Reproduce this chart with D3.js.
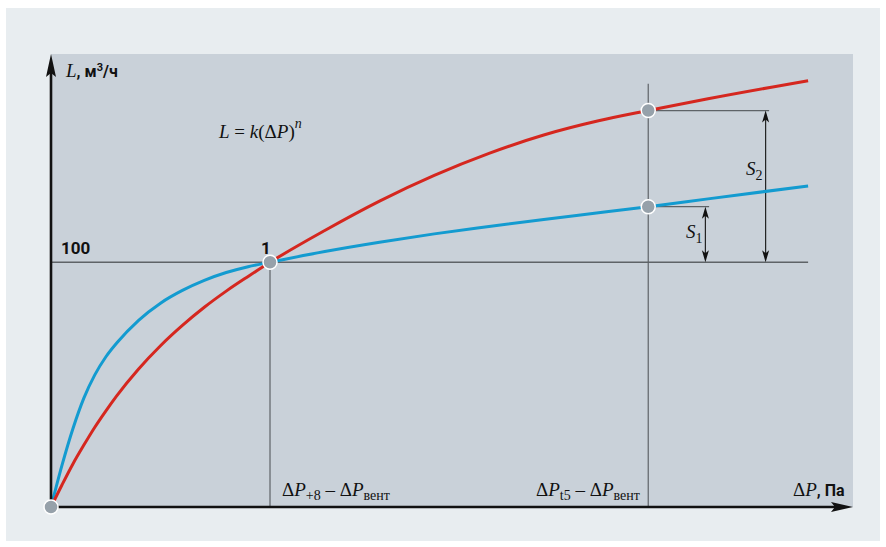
<!DOCTYPE html>
<html>
<head>
<meta charset="utf-8">
<script src="https://cdn.jsdelivr.net/npm/d3@7"></script>
<style>
  body { margin: 0; background: #fff; }
  svg { display: block; }
  .serif { font-family: "Liberation Serif", "DejaVu Serif", serif; font-style: italic; }
  .upr { font-family: "Liberation Serif", "DejaVu Serif", serif; }
  .bold { font-family: "Liberation Sans Narrow", "Roboto", sans-serif; font-weight: bold; }
</style>
</head>
<body>
<svg width="886" height="547"></svg>
<script>
// Pressure drop (normalised, point 1 = 1) and flow L for both curves
var dP    = [0, 0.05, 0.1, 0.15, 0.2, 0.25, 0.3, 0.4, 0.5, 0.6, 0.7, 0.8, 0.9, 1, 1.25, 1.5, 1.75, 2, 2.25, 2.5, 2.727, 3, 3.457];
var redL  = [0, 9.0, 17.6, 25.3, 32.6, 39.2, 45.4, 56.4, 65.9, 74.2, 81.6, 88.2, 94.2, 100, 113, 125, 135.5, 144.5, 152, 157.8, 162, 166.8, 174.2];
var blueL = [0, 17, 32, 44.5, 54, 61.3, 67, 76.3, 83.3, 88.5, 92.6, 95.8, 98.2, 100, 104.4, 108.2, 111.6, 114.6, 117.5, 120.2, 122.7, 125.9, 131.2];

// reference values
var dP1 = 1, dPt5 = 2.727, refL = 100;
var redT5 = 162.0, blueT5 = 122.7;

var svg = d3.select("svg");

// Backgrounds
svg.append("rect").attr("x", 6).attr("y", 8).attr("width", 874).attr("height", 533).attr("fill", "#e8edf0");
svg.append("rect").attr("x", 51).attr("y", 54).attr("width", 802).attr("height", 453).attr("fill", "#c9d1d9");

var x = d3.scaleLinear().domain([0, 3.662]).range([51, 853]);
var y = d3.scaleLinear().domain([0, 185.1]).range([507, 54]);

var gray = "#5e6367";

// Reference lines
svg.append("line").attr("x1", x(0)).attr("x2", x(d3.max(dP)))
  .attr("y1", y(refL)).attr("y2", y(refL)).attr("stroke", gray).attr("stroke-width", 1.4);
svg.append("line").attr("x1", x(dP1)).attr("x2", x(dP1))
  .attr("y1", y(refL)).attr("y2", y(0)).attr("stroke", gray).attr("stroke-width", 1.2);
svg.append("line").attr("x1", x(dPt5)).attr("x2", x(dPt5))
  .attr("y1", y(172.9)).attr("y2", y(0)).attr("stroke", gray).attr("stroke-width", 1.2);

// S1 / S2 brackets
var s1x = 2.988, s2x = 3.263;
svg.append("line").attr("x1", x(dPt5)).attr("x2", x(3.005))
  .attr("y1", y(blueT5)).attr("y2", y(blueT5)).attr("stroke", gray).attr("stroke-width", 1.2);
svg.append("line").attr("x1", x(dPt5)).attr("x2", x(3.279))
  .attr("y1", y(redT5)).attr("y2", y(redT5)).attr("stroke", gray).attr("stroke-width", 1.2);

function dimArrow(xv, top, bottom) {
  var px = x(xv), y1 = y(top), y2 = y(bottom);
  svg.append("line").attr("x1", px).attr("x2", px).attr("y1", y1 + 4).attr("y2", y2 - 4)
    .attr("stroke", "#222").attr("stroke-width", 1.2);
  svg.append("path").attr("d", "M" + px + "," + y1 + "l-3.5,12l3.5,-3l3.5,3z").attr("fill", "#111");
  svg.append("path").attr("d", "M" + px + "," + y2 + "l-3.5,-12l3.5,3l3.5,-3z").attr("fill", "#111");
}
dimArrow(s1x, blueT5, refL);
dimArrow(s2x, redT5, refL);

// Curves
var line = d3.line()
  .x(function(d) { return x(d[0]); })
  .y(function(d) { return y(d[1]); })
  .curve(d3.curveMonotoneX);

svg.append("path").datum(d3.zip(dP, blueL)).attr("d", line)
  .attr("fill", "none").attr("stroke", "#139bd0").attr("stroke-width", 3);
svg.append("path").datum(d3.zip(dP, redL)).attr("d", line)
  .attr("fill", "none").attr("stroke", "#d5271f").attr("stroke-width", 3);

// Axes
svg.append("line").attr("x1", x(0)).attr("x2", 840).attr("y1", y(0)).attr("y2", y(0))
  .attr("stroke", "#111").attr("stroke-width", 2.6);
svg.append("path").attr("d", "M853," + y(0) + "L831," + (y(0) - 5) + "L835," + y(0) + "L831," + (y(0) + 5) + "Z")
  .attr("fill", "#111");
svg.append("line").attr("x1", x(0)).attr("x2", x(0)).attr("y1", y(0)).attr("y2", 66)
  .attr("stroke", "#111").attr("stroke-width", 2.6);
svg.append("path").attr("d", "M" + x(0) + ",54L" + (x(0) - 5) + ",77L" + x(0) + ",73L" + (x(0) + 5) + ",77Z")
  .attr("fill", "#111");

// Marker points
var pts = [[0, 0], [dP1, refL], [dPt5, redT5], [dPt5, blueT5]];
svg.selectAll("circle.pt").data(pts).enter().append("circle")
  .attr("cx", function(d) { return x(d[0]); })
  .attr("cy", function(d) { return y(d[1]); })
  .attr("r", 7).attr("fill", "#96a1aa").attr("stroke", "#fff").attr("stroke-width", 1.5);

// Texts
var t = svg.append("text").attr("x", 66).attr("y", 77).attr("fill", "#111");
t.append("tspan").attr("class", "serif").attr("font-size", 19).text("L");
t.append("tspan").attr("class", "bold").attr("font-size", 16).text(", м");
t.append("tspan").attr("class", "bold").attr("font-size", 11).attr("dy", -6).text("3");
t.append("tspan").attr("class", "bold").attr("font-size", 16).attr("dy", 6).text("/ч");

var f = svg.append("text").attr("x", 219).attr("y", 138).attr("fill", "#111").attr("font-size", 19);
f.append("tspan").attr("class", "serif").text("L");
f.append("tspan").attr("class", "upr").text(" = ");
f.append("tspan").attr("class", "serif").text("k");
f.append("tspan").attr("class", "upr").text("(Δ");
f.append("tspan").attr("class", "serif").text("P");
f.append("tspan").attr("class", "upr").text(")");
f.append("tspan").attr("class", "serif").attr("font-size", 14).attr("dy", -10).text("n");

svg.append("text").attr("class", "bold").attr("x", 61).attr("y", 254).attr("font-size", 17)
  .attr("fill", "#111").text("100");
svg.append("text").attr("class", "bold").attr("x", 261).attr("y", 254).attr("font-size", 17)
  .attr("fill", "#111").text("1");

function dpLabel(px, sub) {
  var l = svg.append("text").attr("x", px).attr("y", 496).attr("fill", "#111").attr("font-size", 19);
  l.append("tspan").attr("class", "upr").text("Δ");
  l.append("tspan").attr("class", "serif").text("P");
  l.append("tspan").attr("class", "upr").attr("font-size", 14).attr("dy", 4).text(sub);
  l.append("tspan").attr("class", "upr").attr("dy", -4).text(" – Δ");
  l.append("tspan").attr("class", "serif").text("P");
  l.append("tspan").attr("class", "upr").attr("font-size", 14).attr("dy", 4).text("вент");
}
dpLabel(282, "+8");
dpLabel(536, "t5");

var xl = svg.append("text").attr("x", 793).attr("y", 496).attr("fill", "#111");
xl.append("tspan").attr("class", "upr").attr("font-size", 19).text("Δ");
xl.append("tspan").attr("class", "serif").attr("font-size", 19).text("P");
xl.append("tspan").attr("class", "bold").attr("font-size", 16).text(", Па");

function sLabel(px, py, sub) {
  var s = svg.append("text").attr("x", px).attr("y", py).attr("fill", "#111").attr("font-size", 19);
  s.append("tspan").attr("class", "serif").text("S");
  s.append("tspan").attr("class", "upr").attr("font-size", 14).attr("dy", 5).text(sub);
}
sLabel(686, 238, "1");
sLabel(746, 175, "2");
</script>
</body>
</html>
